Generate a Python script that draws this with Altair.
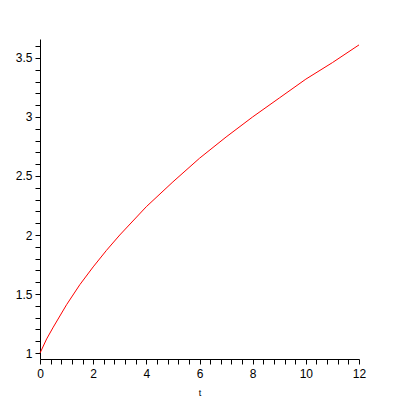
import altair as alt
import pandas as pd

t_vals = [0, 0.25, 0.5, 1, 1.5, 2, 2.5, 3, 4, 5, 6, 7, 8, 9, 10, 11, 12]
y_vals = [1.0, 1.12, 1.22, 1.41, 1.58, 1.73, 1.87, 2.0, 2.24, 2.45, 2.65, 2.83, 3.0, 3.16, 3.32, 3.46, 3.61]

df = pd.DataFrame({"t": t_vals, "y": y_vals})

x_ticks = [round(i * 0.4, 1) for i in range(31)]
y_ticks = [round(1 + i * 0.1, 1) for i in range(27)]

chart = alt.Chart(df).mark_line(color="#ff0000", strokeWidth=1).encode(
    x=alt.X("t:Q", title="t",
            scale=alt.Scale(domain=[0, 12], nice=False, zero=False),
            axis=alt.Axis(values=x_ticks, grid=False, tickSize=5, format="~g",
                          labelExpr="abs(datum.value/2 - round(datum.value/2)) < 0.01 ? datum.label : ''",
                          labelFlush=False, labelPadding=4, titlePadding=9,
                          titleFontSize=9, titleFontWeight="normal")),
    y=alt.Y("y:Q", title=None,
            scale=alt.Scale(domain=[0.95, 3.66], nice=False, zero=False),
            axis=alt.Axis(values=y_ticks, grid=False, tickSize=5, format="~g",
                          labelExpr="abs(datum.value*2 - round(datum.value*2)) < 0.01 ? datum.label : ''",
                          labelPadding=3)),
).properties(
    width=319, height=320,
    autosize=alt.AutoSizeParams(type="none"),
    padding={"left": 32, "top": 31, "right": 33, "bottom": 45},
).configure_view(stroke=None).configure_axis(
    domainColor="black", tickColor="black", labelColor="black", titleColor="black",
    labelFont="Liberation Sans", titleFont="Liberation Sans", labelFontSize=12,
    domainWidth=1, tickWidth=1,
)

chart.save("out.html", embed_options={"renderer": "svg", "actions": False})
